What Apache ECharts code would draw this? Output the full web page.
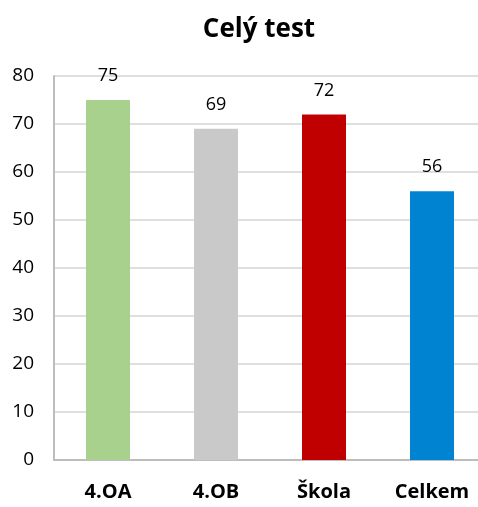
<!DOCTYPE html>
<html><head><meta charset="utf-8">
<script src="https://cdn.jsdelivr.net/npm/echarts@6/dist/echarts.min.js"></script>
<style>html,body{margin:0;padding:0;background:#fff}#c{width:478px;height:507px}</style>
</head><body><div id="c"></div>
<script>
const categories = ['4.OA', '4.OB', 'Škola', 'Celkem'];
const values = [75, 69, 72, 56];
const barColors = ['#A9D18E', '#C9C9C9', '#C00000', '#0083D0'];
const titleText = 'Celý test';

const chart = echarts.init(document.getElementById('c'));
chart.setOption({
  animation: false,
  backgroundColor: '#fff',
  title: {
    text: titleText, left: 254, top: 12, textAlign: 'center',
    textStyle: { fontFamily: 'Open Sans', fontWeight: 'bold', fontSize: 26, color: '#000' }
  },
  grid: { left: 54, top: 76, width: 432, height: 384, outerBoundsMode: 'none', containLabel: false },
  xAxis: {
    type: 'category', data: categories,
    axisLine: { lineStyle: { color: '#BDBDBD', width: 2 } },
    axisTick: { show: false },
    axisLabel: { margin: 22, fontFamily: 'Open Sans', fontWeight: 'bold', fontSize: 20, color: '#000' }
  },
  yAxis: {
    type: 'value', min: 0, max: 80, interval: 10,
    axisLine: { show: true, lineStyle: { color: '#BDBDBD', width: 2 } },
    axisTick: { show: false },
    splitLine: { lineStyle: { color: '#D4D4D4', width: 1.5 } },
    axisLabel: { margin: 20, fontFamily: 'Open Sans', fontSize: 19, color: '#000' }
  },
  series: [{
    type: 'bar', barWidth: 44,
    data: values.map((v, i) => ({ value: v, itemStyle: { color: barColors[i] } })),
    label: { show: true, position: 'top', distance: 15, fontFamily: 'Open Sans', fontSize: 18, color: '#000' }
  }]
});
</script></body></html>
